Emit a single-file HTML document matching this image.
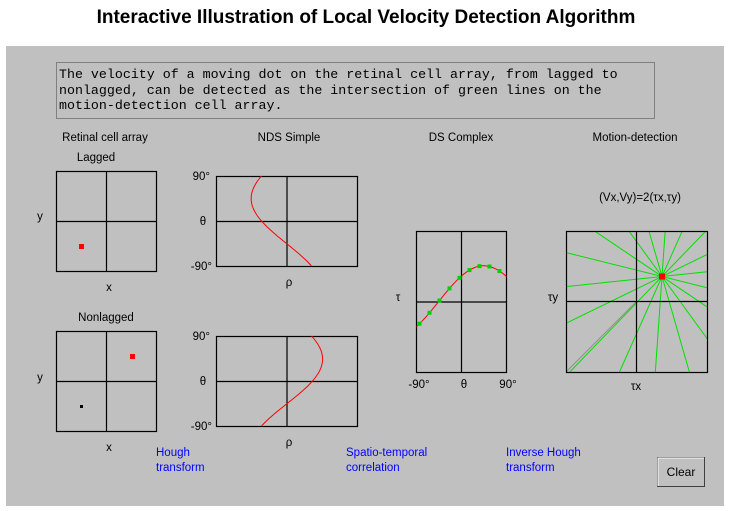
<!DOCTYPE html>
<html><head><meta charset="utf-8"><style>
html,body{margin:0;padding:0;background:#fff;width:731px;height:511px;overflow:hidden}
svg{display:block}
svg text{font-family:"Liberation Sans",sans-serif;font-size:11.5px;fill:#000}
svg text.lnk{fill:#0000ff}
svg text.mono{font-family:"Liberation Mono",monospace;font-size:13.3px}
</style></head><body>
<svg id="s" width="731" height="511" viewBox="0 0 731 511" xmlns="http://www.w3.org/2000/svg">
<text x="366" y="23" text-anchor="middle" style="font-size:19px;font-weight:bold">Interactive Illustration of Local Velocity Detection Algorithm</text>
<rect x="6" y="46" width="718" height="460" fill="#c0c0c0"/>
<rect x="56.5" y="62.5" width="598" height="56" fill="#c0c0c0" stroke="#808080"/>
<g>
<text class="mono" x="59" y="78">The velocity of a moving dot on the retinal cell array, from lagged to</text>
<text class="mono" x="59" y="94">nonlagged, can be detected as the intersection of green lines on the</text>
<text class="mono" x="59" y="109">motion-detection cell array.</text>
</g>
<text x="105" y="141" text-anchor="middle">Retinal cell array</text>
<text x="289" y="141" text-anchor="middle">NDS Simple</text>
<text x="461" y="141" text-anchor="middle">DS Complex</text>
<text x="635" y="141" text-anchor="middle">Motion-detection</text>
<text x="96" y="161" text-anchor="middle">Lagged</text>
<text x="106" y="321" text-anchor="middle">Nonlagged</text>
<text x="40" y="220" text-anchor="middle">y</text>
<text x="40" y="381" text-anchor="middle">y</text>
<text x="109" y="291" text-anchor="middle">x</text>
<text x="109" y="451" text-anchor="middle">x</text>
<text x="210" y="180" text-anchor="end">90°</text>
<text x="203" y="225" text-anchor="middle">θ</text>
<text x="212" y="270" text-anchor="end">-90°</text>
<text x="289" y="286" text-anchor="middle">ρ</text>
<text x="210" y="340" text-anchor="end">90°</text>
<text x="203" y="385" text-anchor="middle">θ</text>
<text x="212" y="430" text-anchor="end">-90°</text>
<text x="289" y="446" text-anchor="middle">ρ</text>
<text x="398" y="301" text-anchor="middle">τ</text>
<text x="419" y="388" text-anchor="middle">-90°</text>
<text x="464" y="388" text-anchor="middle">θ</text>
<text x="508" y="388" text-anchor="middle">90°</text>
<text x="640" y="201" text-anchor="middle">(Vx,Vy)=2(τx,τy)</text>
<text x="553" y="301" text-anchor="middle">τy</text>
<text x="636" y="390" text-anchor="middle">τx</text>
<g>
<text class="lnk" x="156" y="456">Hough</text>
<text class="lnk" x="156" y="471">transform</text>
<text class="lnk" x="346" y="456">Spatio-temporal</text>
<text class="lnk" x="346" y="471">correlation</text>
<text class="lnk" x="506" y="456">Inverse Hough</text>
<text class="lnk" x="506" y="471">transform</text>
</g>
<g>
<rect x="657.5" y="457.5" width="47" height="29" fill="#c0c0c0" stroke="#404040"/>
<path d="M658 486V458H704" stroke="#fff" fill="none"/>
<text x="681" y="476" text-anchor="middle" style="font-size:12px">Clear</text>
</g>
<defs><clipPath id="mc"><rect x="566" y="231" width="141" height="141"/></clipPath></defs>
<g id="plots"></g>
</svg>
<script>
const lagged=[-25,-25];      // lagged dot (x,y) relative px
const nonlagged=[26,25];     // nonlagged dot
const dsThetas=[-84,-64,-44,-24,-4,16,36,56,76];
const NS='http://www.w3.org/2000/svg';
const g=document.getElementById('plots');
function mk(t,a,p){const e=document.createElementNS(NS,t);for(const k in a)e.setAttribute(k,a[k]);(p||g).appendChild(e);return e;}
function box(x,y,w,h,name){const b=mk('g',{});


mk('rect',{x:x+.5,y:y+.5,width:w,height:h,fill:'none',stroke:'#000','stroke-width':1.2},b);
mk('line',{x1:x+w/2+.5,y1:y,x2:x+w/2+.5,y2:y+h,stroke:'#000','stroke-width':1.2},b);
mk('line',{x1:x,y1:y+h/2+.5,x2:x+w,y2:y+h/2+.5,stroke:'#000','stroke-width':1.2},b);return b;}
const r1=box(56,171,100,100,'retina-lagged');const r2=box(56,331,100,100,'retina-nonlagged');
function dot(p,cx,cy,v,c,s){return mk('rect',{x:cx+v[0]-s/2,y:cy-v[1]-s/2,width:s,height:s,fill:c},p);}
let d1=dot(r1,106.5,221.5,lagged,'#f00',5);


let d2=dot(r2,106.5,381.5,nonlagged,'#f00',5);


let d3=dot(r2,106.5,381.5,lagged,'#000',3);


function nds(y0,v,name){const b=box(216,y0,141,90,name);let pts=[];
for(let t=-90;t<=90;t+=2){const r=t*Math.PI/180;const rho=v[0]*Math.cos(r)+v[1]*Math.sin(r);
pts.push((286.5+rho).toFixed(1)+','+(y0+45-t/2).toFixed(1));}
const c=mk('polyline',{points:pts.join(' '),fill:'none',stroke:'#f00','stroke-width':1},b);

}
nds(176,lagged,'nds-lagged');nds(336,nonlagged,'nds-nonlagged');
const dv=[nonlagged[0]-lagged[0],nonlagged[1]-lagged[1]];
const tau=t=>{const r=t*Math.PI/180;return (dv[0]*Math.cos(r)+dv[1]*Math.sin(r))/2;};
const ds=box(416,231,90,141,'ds-complex-plot');
let pts=[];for(let t=-90;t<=90;t+=2)pts.push((461.5+t/2).toFixed(1)+','+(301.5-tau(t)).toFixed(1));
const dc=mk('polyline',{points:pts.join(' '),fill:'none',stroke:'#f00','stroke-width':1},ds);


dsThetas.forEach(t=>{const m=mk('rect',{x:461.5+t/2-2,y:301.5-tau(t)-2,width:4,height:4,fill:'#00d000'},ds);

});
const md=mk('g',{});


const X0=566,Y0=231,W=141,H=141,CX=636.5,CY=301.5;
const lg=mk('g',{'clip-path':'url(#mc)'},md);
mk('line',{x1:X0,y1:Y0+H,x2:CX,y2:CY,stroke:'#909090','stroke-width':1},lg);
dsThetas.forEach(t=>{const r=t*Math.PI/180,c=Math.cos(r),s=Math.sin(r),T=tau(t);
const px=CX+T*c,py=CY-T*s,L=300;
const l=mk('line',{x1:px-s*L,y1:py-c*L,x2:px+s*L,y2:py+c*L,stroke:'#00e000','stroke-width':1},lg);

});
mk('rect',{x:X0+.5,y:Y0+.5,width:W,height:H,fill:'none',stroke:'#000','stroke-width':1.2},md);
mk('line',{x1:CX,y1:Y0,x2:CX,y2:Y0+H,stroke:'#000','stroke-width':1.2},md);
mk('line',{x1:X0,y1:CY,x2:X0+W,y2:CY,stroke:'#000','stroke-width':1.2},md);
const vd=mk('rect',{x:CX+dv[0]/2-3,y:CY-dv[1]/2-3,width:6,height:6,fill:'#f00'},md);


</script>
</body></html>
